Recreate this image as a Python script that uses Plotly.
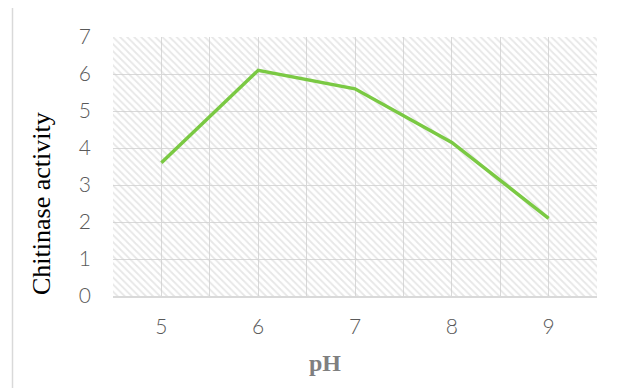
import plotly.graph_objects as go

ph = [5, 6, 7, 8, 9]
activity = [3.6, 6.1, 5.6, 4.15, 2.1]
y_ticks = [0, 1, 2, 3, 4, 5, 6, 7]

x_range = [4.5, 9.5]
y_range = [0, 7]

# page body has an 8px margin; layout is computed in page pixels minus 8
OFF = 8
PL, PR, PT, PB = 113, 597, 37, 296   # plot area in page pixels
PW, PH = PR - PL, PB - PT

fig = go.Figure()

# hatched plot-area background
fig.add_trace(go.Scatter(
    x=[x_range[0], x_range[1], x_range[1], x_range[0], x_range[0]],
    y=[y_range[0], y_range[0], y_range[1], y_range[1], y_range[0]],
    mode="lines", line=dict(width=0), fill="toself",
    fillcolor="rgba(0,0,0,0)",
    fillpattern=dict(shape="\\", fgcolor="#cfcfcf", bgcolor="rgba(0,0,0,0)",
                     size=5, solidity=0.35, fillmode="overlay"),
    hoverinfo="skip", showlegend=False,
))

fig.add_trace(go.Scatter(
    x=ph, y=activity, mode="lines",
    line=dict(color="#7ac943", width=3.5),
    showlegend=False,
))

tick_font = dict(family="Lato, Open Sans, sans-serif", size=21, color="#595959", weight=300)

fig.update_xaxes(
    range=x_range, tickvals=ph, ticktext=[str(v) for v in ph],
    showgrid=True, gridcolor="#d9d9d9", gridwidth=1.3,
    minor=dict(tick0=4.5, dtick=1, showgrid=True, gridcolor="#d9d9d9", gridwidth=1.3),
    showline=True, linecolor="#d9d9d9", linewidth=1.5,
    ticks="", tickfont=tick_font, ticklabelstandoff=11,
    zeroline=False, fixedrange=True,
)
fig.update_yaxes(
    range=y_range, tickvals=y_ticks, ticktext=[str(v) for v in y_ticks],
    showgrid=True, gridcolor="#d9d9d9", gridwidth=1.3,
    showline=False, ticks="", tickfont=tick_font, ticklabelstandoff=21,
    zeroline=False, fixedrange=True,
)

def px_x(px):
    return (px - PL) / PW

def px_y(py):
    return (PB - py) / PH

fig.add_annotation(
    text="Chitinase activity", xref="paper", yref="paper",
    x=px_x(41), y=px_y(204), textangle=-90, showarrow=False,
    xanchor="center", yanchor="middle",
    font=dict(family="Liberation Serif, Times New Roman, serif", size=26, color="#000000"),
)
fig.add_annotation(
    text="<b>pH</b>", xref="paper", yref="paper",
    x=px_x(325), y=px_y(363), showarrow=False,
    xanchor="center", yanchor="middle",
    font=dict(family="Liberation Serif, Times New Roman, serif", size=24, color="#7f7f7f"),
)

# outer chart border
fig.add_shape(
    type="rect", xref="paper", yref="paper",
    x0=px_x(12.5), x1=px_x(625),
    y0=px_y(400), y1=px_y(5.5),
    line=dict(color="#d9d9d9", width=1.5), fillcolor="rgba(0,0,0,0)", layer="below",
)

W, H = 627 - OFF, 388 - OFF
fig.update_layout(
    width=W, height=H, autosize=False,
    margin=dict(l=PL - OFF, r=W - (PR - OFF), t=PT - OFF, b=H - (PB - OFF)),
    paper_bgcolor="white", plot_bgcolor="white",
)

fig.write_html("out.html", config={"displayModeBar": False})
